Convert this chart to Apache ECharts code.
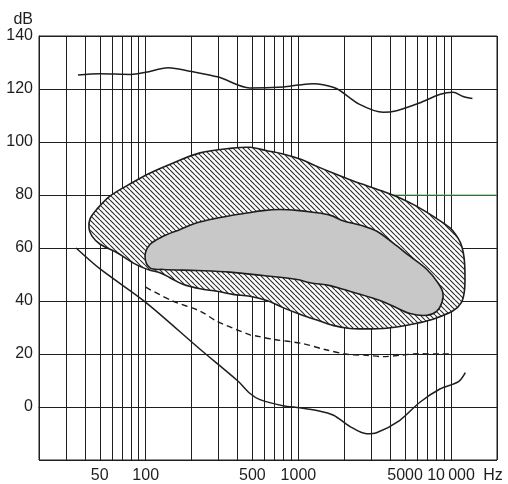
<!DOCTYPE html>
<html>
<head>
<meta charset="utf-8">
<script src="https://cdn.jsdelivr.net/npm/echarts@6/dist/echarts.min.js"></script>
<style>
  html, body {margin: 0; padding: 0; background: #fff;}
  #chart {width: 508px; height: 484px;}
</style>
</head>
<body>
<div id="chart"></div>
<script>
// frequency grid (Hz) and labelled frequencies
var gridFreqs = [20, 30, 40, 50, 60, 70, 80, 90,
  100, 200, 300, 400, 500, 600, 700, 800, 900,
  1000, 2000, 3000, 4000, 5000, 6000, 7000, 8000, 9000,
  10000, 20000];
var labelFreqs = [50, 100, 500, 1000, 5000, 10000, 20000];
var dbTicks = [-20, 0, 20, 40, 60, 80, 100, 120, 140];

// threshold of pain
var painLimit = [[36, 125.3], [50, 125.8], [80, 125.5], [100, 126.3], [140, 128], [200, 126.6],
  [300, 124.5], [480, 120.4], [800, 120.8], [1000, 121.5], [1250, 122], [1450, 121.6],
  [1800, 120], [2500, 114.3], [3600, 111.2], [4400, 111.8], [6200, 114.7], [8500, 118],
  [10300, 118.8], [12000, 117.2], [13800, 116.4]];

// threshold of hearing
var hearingLimit = [[35, 60], [50, 52.2], [100, 39.5], [227, 21.8], [400, 9.9], [480, 5.2],
  [560, 2.8], [790, 0.5], [1020, -0.3], [1320, -1.3], [1700, -3.1], [2170, -7.3],
  [2800, -10.1], [3250, -9.7], [4600, -5.1], [6250, 1.8], [8450, 6.8], [11200, 9.6], [12400, 13]];

// dashed curve
var dashedCurve = [[100, 45.2], [150, 40], [227, 36.2], [292, 32.4], [482, 27.2], [530, 26.8],
  [690, 25.5], [1050, 24], [1490, 21.7], [2080, 19.9], [2800, 19.5], [3560, 19.0],
  [4620, 19.5], [6000, 20.1], [8700, 20], [10300, 20.1]];

// music area (hatched) outline
var musicArea = [[43.2, 71], [47.7, 74.5], [58, 79.5], [82.5, 84.8], [107, 88.3], [150, 92],
  [227, 95.9], [373, 97.7], [482, 98], [622, 96.7], [792, 95.5], [1024, 93.6], [1323, 90.8],
  [1684, 88.3], [2176, 85.8], [2812, 83.5], [3579, 81.4], [4625, 78.9], [5977, 75.7],
  [7607, 72], [9833, 67.6], [11090, 63.8], [11780, 60.5], [12200, 56], [12330, 50.7],
  [12250, 44], [11700, 39.5], [10300, 36.3], [7607, 33.1], [5977, 31.6], [4625, 30.4],
  [3579, 29.6], [2812, 29.5], [2176, 29.6], [1684, 30.8], [1323, 32.8], [1024, 35],
  [792, 37.5], [622, 40.2], [482, 41.8], [373, 42.5], [293, 43.7], [227, 44.6], [175, 46.3],
  [144, 48.8], [124, 50.7], [107, 51.6], [96, 52.6], [82.5, 54.4], [65, 58.2], [50, 61.5],
  [44.5, 64.5], [42.5, 67.5]];

// speech area (grey) outline
var speechArea = [[99, 56.9], [106.6, 61.3], [130, 64.4], [168, 67], [217, 69.5], [276, 71],
  [356, 72.2], [460, 73.2], [586, 74.1], [757, 74.5], [979, 74.2], [1245, 73.5], [1610, 72.4],
  [1958, 70.3], [2600, 68.5], [3271, 66.3], [4163, 61.9], [5377, 56.9], [6949, 51.9],
  [8203, 46.9], [8845, 43.1], [8713, 39.4], [8080, 36.2], [6949, 34.6], [5377, 35.3],
  [4163, 38.1], [3271, 40.6], [1958, 44.4], [1610, 45.8], [1191, 46.9], [979, 48.1],
  [586, 49.6], [356, 50.9], [217, 51.5], [130, 51.9], [106.6, 52.5]];

// green scan tint on the 80 dB line
var greenTint = [[4000, 80], [20000, 80]];

var ink = '#1e1e1e';

function hatchTile() {
  var c = document.createElement('canvas');
  c.width = c.height = 5;
  var g = c.getContext('2d');
  g.fillStyle = '#fff';
  g.fillRect(0, 0, 5, 5);
  g.strokeStyle = '#2b2b2b';
  g.lineWidth = 1.1;
  g.beginPath();
  for (var k = -1; k <= 1; k++) {
    g.moveTo(k * 5, 0);
    g.lineTo(k * 5 + 5, 5);
  }
  g.stroke();
  return c;
}

function areaRenderer(outline, fill) {
  return function (params, api) {
    if (params.dataIndex > 0) return;
    var pts = outline.map(function (p) { return api.coord(p); });
    return {
      type: 'polygon',
      shape: {points: pts, smooth: 0.35},
      style: {fill: fill, stroke: ink, lineWidth: 1.6}
    };
  };
}

function fmtFreq(v) {
  if (v === 20000) return '{u|Hz}';
  return v === 10000 ? '10\u2009000' : String(v);
}

var myChart = echarts.init(document.getElementById('chart'));
myChart.setOption({
  animation: false,
  textStyle: {fontFamily: 'Liberation Sans'},
  grid: {left: 39, right: 11, top: 36, bottom: 23, show: true, borderColor: ink, borderWidth: 1},
  xAxis: {
    type: 'log',
    logBase: 10,
    min: 20,
    max: 20000,
    axisLine: {show: true, lineStyle: {color: ink, width: 1}},
    axisTick: {show: false, customValues: gridFreqs},
    splitLine: {show: true, lineStyle: {color: ink, width: 1}},
    axisLabel: {
      customValues: labelFreqs, formatter: fmtFreq, color: ink, fontSize: 16, margin: 8,
      rich: {u: {fontSize: 16, color: ink, padding: [0, 8, 0, 0]}}
    }
  },
  yAxis: {
    type: 'value',
    min: dbTicks[0],
    max: dbTicks[dbTicks.length - 1],
    interval: 20,
    name: 'dB',
    nameLocation: 'end',
    nameGap: 8,
    nameTextStyle: {color: ink, fontSize: 16, align: 'right', padding: [0, 6, 0, 0]},
    axisLine: {show: true, lineStyle: {color: ink, width: 1}},
    axisTick: {show: false},
    splitLine: {show: true, lineStyle: {color: ink, width: 1}},
    axisLabel: {
      color: ink, fontSize: 16, margin: 6,
      formatter: function (v) { return v === dbTicks[0] ? '' : v; }
    }
  },
  series: [
    {
      type: 'line', data: greenTint, showSymbol: false, silent: true,
      lineStyle: {color: '#59b85a', width: 1.2}, z: 1
    },
    {
      type: 'custom', data: [musicArea[0]], renderItem: areaRenderer(musicArea, {image: hatchTile(), repeat: 'repeat'}), z: 2
    },
    {
      type: 'custom', data: [speechArea[0]], renderItem: areaRenderer(speechArea, '#c8c8c8'), z: 3
    },
    {
      type: 'line', data: painLimit, smooth: 0.3, showSymbol: false,
      lineStyle: {color: ink, width: 1.5}, z: 4
    },
    {
      type: 'line', data: hearingLimit, smooth: 0.3, showSymbol: false,
      lineStyle: {color: ink, width: 1.5}, z: 4
    },
    {
      type: 'line', data: dashedCurve, smooth: 0.3, showSymbol: false,
      lineStyle: {color: ink, width: 1.4, type: [6, 4]}, z: 4
    }
  ]
});
</script>
</body>
</html>
